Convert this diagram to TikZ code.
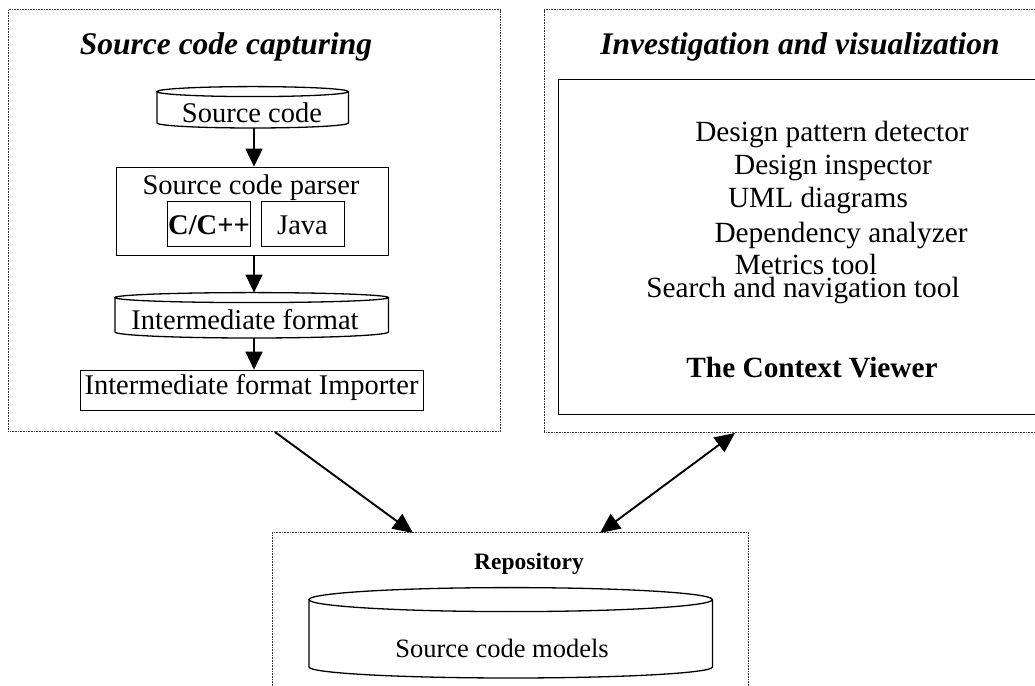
\documentclass[tikz,border=0pt]{standalone}
\usepackage{fontspec}
\setmainfont{Liberation Serif}
\usetikzlibrary{arrows.meta,calc}
\newcommand\cylout[3]{%
\draw[line width=1.3pt] let \p1=(#1.north west), \p2=(#1.south east), \n1={(\x2-\x1)/2} in
 (\x1,\y1-#2pt) -- (\x1,\y2+#3pt) arc[start angle=180,end angle=360,x radius=\n1,y radius=#3pt]
 -- (\x2,\y1-#2pt) arc[start angle=0,end angle=360,x radius=\n1,y radius=#2pt];}
\begin{document}
\begin{tikzpicture}[x=1pt,y=1pt,
 dotbox/.style={draw=black!80,line width=0.9pt,dash pattern=on 0.8pt off 0.8pt,inner sep=0pt,anchor=south west},
 solbox/.style={draw=black,line width=1.3pt,inner sep=0pt,anchor=south west},
 hold/.style={inner sep=0pt,anchor=south west},
 txt/.style={font=\fontsize{28.5}{30}\selectfont,anchor=base,inner sep=0pt},
 rtxt/.style={txt,font=\fontsize{29.3}{31}\selectfont},
 btxt/.style={txt,font=\fontsize{28.5}{30}\selectfont\bfseries},
 ttl/.style={font=\fontsize{31.5}{34}\selectfont\bfseries\itshape,anchor=base,inner sep=0pt},
 flow/.style={-{Triangle[length=18pt,width=17pt]},line width=1.5pt},
 bigarr/.style={-{Triangle[length=20pt,width=18pt]},line width=1.9pt},
 bigdbl/.style={{Triangle[length=20pt,width=18pt]}-{Triangle[length=20pt,width=18pt]},line width=1.9pt},
]
\useasboundingbox (0,0) rectangle (1035,685);
\clip (0,0) rectangle (1035,685);
\fill[white] (0,0) rectangle (1035,685);

% left panel
\node[dotbox,minimum width=492pt,minimum height=422pt] (capt) at (8,253) {};
\node[ttl] (capttl) at (226,630) {Source code capturing};
\node[hold,minimum width=191pt,minimum height=41pt] (src) at (157,557) {};
\cylout{src}{5}{5}
\node[txt] (srct) at (252,562) {Source code};
\node[solbox,minimum width=272pt,minimum height=88pt] (parser) at (116,429) {};
\node[txt] (parsert) at (251,490) {Source code parser};
\node[solbox,minimum width=83pt,minimum height=45pt] (cbox) at (167,438) {};
\node[btxt] (ctxt) at (209,450) {C/C++};
\node[solbox,minimum width=83pt,minimum height=45pt] (jbox) at (261,438) {};
\node[txt] (jtxt) at (302.5,450) {Java};
\node[hold,minimum width=273pt,minimum height=45pt] (inter) at (115,347) {};
\cylout{inter}{5}{6}
\node[txt] (intert) at (245,355) {Intermediate format};
\node[solbox,minimum width=343pt,minimum height=40pt] (imp) at (80,274) {};
\node[txt] (impt) at (251.5,290) {Intermediate format Importer};

\draw[flow] (src.south -| 254,0) -- (parser.north -| 254,0);
\draw[flow] (parser.south -| 254,0) -- (inter.north -| 254,0);
\draw[flow] (inter.south -| 254,0) -- (imp.north -| 254,0);

% right panel
\node[dotbox,minimum width=520pt,minimum height=423pt] (invest) at (544,252) {};
\node[ttl] (invttl) at (800,630) {Investigation and visualization};
\node[solbox,minimum width=500pt,minimum height=335pt] (ctx) at (558,270) {};
\node[rtxt] (t1) at (832,543) {Design pattern detector};
\node[rtxt] (t2) at (833,510) {Design inspector};
\node[rtxt] (t3) at (818,477) {UML diagrams};
\node[rtxt] (t4) at (841,442) {Dependency analyzer};
\node[rtxt] (t5) at (806,410) {Metrics tool};
\node[rtxt] (t6) at (803,387) {Search and navigation tool};
\node[btxt,font=\fontsize{29.3}{31}\selectfont\bfseries] (t7) at (812,307) {The Context Viewer};

% repository
\node[dotbox,minimum width=476pt,minimum height=180pt] (repo) at (272,-28) {};
\node[btxt,font=\fontsize{23.5}{26}\selectfont\bfseries] (repot) at (529,115) {Repository};
\node[hold,minimum width=403pt,minimum height=90pt] (models) at (309,7) {};
\cylout{models}{12}{11}
\node[txt,font=\fontsize{26.5}{28}\selectfont] (modelst) at (502,28) {Source code models};

\coordinate (a1s) at (275,253);
\coordinate (a1e) at (413,152);
\coordinate (a2s) at (600,152);
\coordinate (a2e) at (735,252);
\draw[bigarr] (a1s) -- (a1e);
\draw[bigdbl] (a2s) -- (a2e);
\end{tikzpicture}
\end{document}
